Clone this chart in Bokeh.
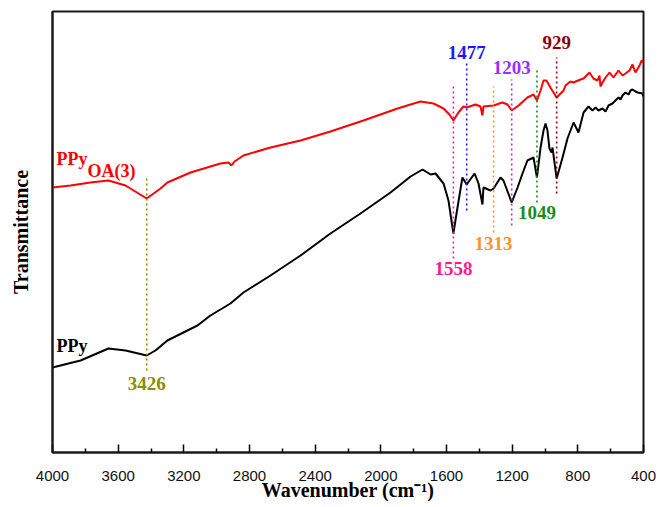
from bokeh.plotting import figure
from bokeh.models import Range1d, FixedTicker, ColumnDataSource
from bokeh.core.properties import value
from bokeh.embed import file_html
from bokeh.resources import INLINE

# ---- data (wavenumber in cm^-1, transmittance in arbitrary units) ----
red_wn = [4000, 3890, 3769, 3659, 3555, 3426, 3342, 3300, 3159, 2977, 2928, 2910, 2891,
          2837, 2672, 2489, 2307, 2106, 1898, 1819, 1758, 1679, 1618, 1582, 1558, 1527,
          1497, 1477, 1423, 1393, 1381, 1375, 1313, 1259, 1228, 1203, 1161, 1107, 1070,
          1049, 1027, 1009, 991, 967, 948, 929, 887, 875, 845, 826, 784, 765, 729, 705,
          680, 668, 662, 650, 631, 607, 583, 552, 528, 510, 485, 467, 449, 424, 412, 400]
red_t = [265, 267, 270, 272, 267, 254, 264, 270, 280, 289, 290, 287, 291,
         297, 305, 312, 321, 332, 344, 348, 351, 349, 344, 338, 332, 340,
         346, 345, 348, 346, 337, 346, 347, 350, 348, 342, 347, 355, 358,
         352, 362, 372, 372, 365, 360, 355, 362, 367, 371, 370, 373, 374, 380, 374,
         372, 377, 366, 370, 375, 380, 375, 382, 377, 379, 382, 388, 380, 387, 392, 390]

black_wn = [4000, 3829, 3659, 3555, 3426, 3373, 3300, 3117, 3038, 2916, 2837, 2672, 2489,
            2307, 2124, 1941, 1819, 1746, 1697, 1667, 1618, 1588, 1558, 1533, 1503, 1477,
            1429, 1405, 1381, 1375, 1332, 1313, 1271, 1253, 1203, 1167, 1137, 1107, 1070,
            1049, 1027, 1009, 997, 985, 973, 960, 954, 948, 929, 893, 863, 826, 796, 765,
            735, 711, 692, 674, 650, 631, 613, 589, 571, 552, 540, 528, 510, 491, 479, 467,
            449, 436, 406, 400]
black_t = [85, 92, 104, 102, 97, 102, 112, 127, 137, 149, 160, 177, 197,
           219, 239, 260, 276, 283, 278, 279, 269, 252, 219, 245, 275, 268,
           279, 269, 248, 265, 262, 264, 275, 272, 250, 265, 279, 292, 295,
           275, 305, 322, 329, 322, 304, 300, 305, 297, 274, 295, 314, 330, 320, 340,
           346, 342, 345, 342, 344, 341, 347, 349, 352, 355, 353, 357, 360, 358, 362, 363,
           361, 360, 359, 356]

peaks = [3426, 1558, 1477, 1313, 1203, 1049, 929]
peak_labels = ["3426", "1558", "1477", "1313", "1203", "1049", "929"]
peak_colors = ["#8c8c00", "#ff1a8c", "#1a1aff", "#ff9426", "#9b30ff", "#1a8c1a", "#8b0000"]
line_top = [275, 367, 389, 366, 373, 384, 395]
line_bottom = [82, 194, 242, 220, 227, 250, 259]
label_y = [69, 184, 400, 209, 385, 240, 410]

x_major = [4000, 3600, 3200, 2800, 2400, 2000, 1600, 1200, 800, 400]
x_minor = [3800, 3400, 3000, 2600, 2200, 1800, 1400, 1000, 600]

p = figure(width=659, height=507, x_range=Range1d(4000, 400), y_range=Range1d(0, 441),
           output_backend="svg", toolbar_location=None,
           min_border_left=52, min_border_right=16, min_border_top=11, min_border_bottom=55)
p.grid.visible = False
p.outline_line_color = "#1a1a1a"
p.outline_line_width = 2
p.background_fill_color = "white"
p.border_fill_color = "white"

# curves
p.line(red_wn, red_t, line_color="#ff0000", line_width=2)
p.line(black_wn, black_t, line_color="#000000", line_width=2)

# dotted peak markers
src = ColumnDataSource(dict(x=peaks, y0=line_bottom, y1=line_top, c=peak_colors,
                            ly=label_y, t=peak_labels))
p.segment(x0="x", y0="y0", x1="x", y1="y1", line_color="c", line_dash="2 3",
          line_width=1.6, source=src)
p.text(x="x", y="ly", text="t", text_color="c", text_font=value("Liberation Serif"),
       text_font_style="bold", text_font_size="19px", text_align="center",
       text_baseline="middle", source=src)

# curve labels
p.text(x=[3976], y=[294], text=["PPy"], text_color="#ff0000",
       text_font=value("Liberation Serif"), text_font_style="bold",
       text_font_size="18px", text_align="left", text_baseline="middle")
p.text(x=[3787], y=[282], text=["OA(3)"], text_color="#ff0000",
       text_font=value("Liberation Serif"), text_font_style="bold",
       text_font_size="18px", text_align="left", text_baseline="middle")
p.text(x=[3976], y=[107], text=["PPy"], text_color="#000000",
       text_font=value("Liberation Serif"), text_font_style="bold",
       text_font_size="18px", text_align="left", text_baseline="middle")

# x axis
xa = p.xaxis[0]
xa.ticker = FixedTicker(ticks=x_major, minor_ticks=x_minor)
xa.axis_line_width = 2
xa.axis_line_color = "#1a1a1a"
xa.major_tick_in = 8
xa.major_tick_out = 0
xa.minor_tick_in = 4
xa.minor_tick_out = 0
xa.major_tick_line_width = 1.5
xa.minor_tick_line_width = 1.5
xa.major_label_text_font = "Liberation Sans"
xa.major_label_text_font_size = "15px"
xa.major_label_text_color = "#111111"
xa.major_label_standoff = 18
xa.axis_label = "Wavenumber (cm\u207b\u00b9)"
xa.axis_label_text_font = "Liberation Serif"
xa.axis_label_text_font_style = "bold"
xa.axis_label_text_font_size = "20px"
xa.axis_label_text_color = "#000000"
xa.axis_label_standoff = -5

# y axis
ya = p.yaxis[0]
ya.ticker = FixedTicker(ticks=[])
ya.axis_line_width = 2
ya.axis_line_color = "#1a1a1a"
ya.major_tick_in = 0
ya.major_tick_out = 0
ya.minor_tick_in = 0
ya.minor_tick_out = 0
ya.axis_label = "Transmittance"
ya.axis_label_text_font = "Liberation Serif"
ya.axis_label_text_font_style = "bold"
ya.axis_label_text_font_size = "20px"
ya.axis_label_text_color = "#000000"
ya.axis_label_standoff = 21

open("out.html", "w").write(file_html(p, INLINE))
